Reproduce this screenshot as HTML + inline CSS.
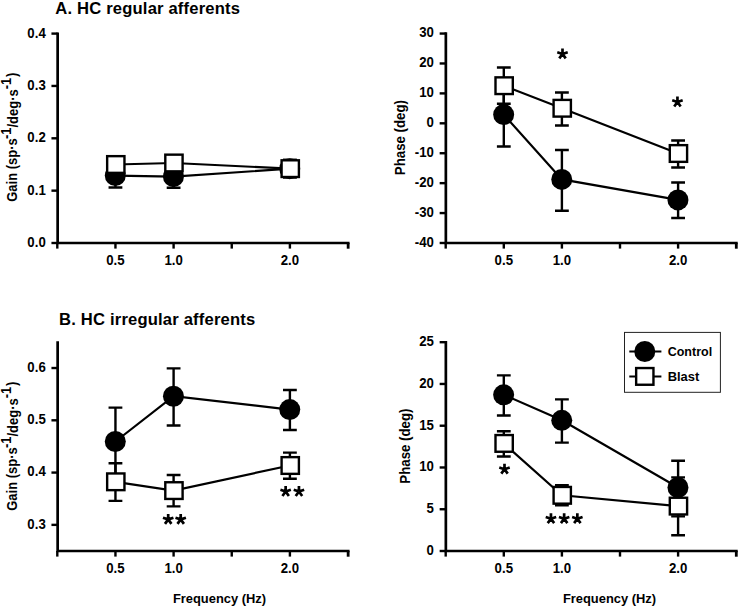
<!DOCTYPE html>
<html><head><meta charset="utf-8"><title>Figure</title>
<style>html,body{margin:0;padding:0;background:#fff}svg{display:block}text{font-family:"Liberation Sans", sans-serif;fill:#000}.t{font-size:13.6px;font-weight:bold}.h{font-size:16.6px;font-weight:bold;letter-spacing:0.18px}.k{font-size:14.4px;font-weight:bold}.s{font-size:26px;font-weight:bold}.r{font-size:13.8px;font-weight:bold}</style></head><body>
<svg width="739" height="607" viewBox="0 0 739 607">
<rect width="739" height="607" fill="#fff"/>
<path d="M115.45 164.00V187.50M108.55 164.00H122.35M108.55 187.50H122.35" stroke="#000" stroke-width="2.4" fill="none"/>
<path d="M173.60 166.00V187.80M166.70 166.00H180.50M166.70 187.80H180.50" stroke="#000" stroke-width="2.4" fill="none"/>
<path d="M289.90 160.00V177.30M283.00 160.00H296.80M283.00 177.30H296.80" stroke="#000" stroke-width="2.4" fill="none"/>
<polyline points="115.45,175.60 173.60,176.70 289.90,168.65" fill="none" stroke="#000" stroke-width="2.2"/>
<circle cx="115.30" cy="175.60" r="10.5" fill="#000"/>
<circle cx="173.45" cy="176.70" r="10.5" fill="#000"/>
<circle cx="289.75" cy="168.65" r="10.5" fill="#000"/>
<path d="M115.45 158.50V170.50M108.55 158.50H122.35M108.55 170.50H122.35" stroke="#000" stroke-width="2.4" fill="none"/>
<path d="M173.60 157.00V169.00M166.70 157.00H180.50M166.70 169.00H180.50" stroke="#000" stroke-width="2.4" fill="none"/>
<path d="M289.90 160.00V177.30M283.00 160.00H296.80M283.00 177.30H296.80" stroke="#000" stroke-width="2.4" fill="none"/>
<polyline points="115.45,164.50 173.60,163.00 289.90,168.65" fill="none" stroke="#000" stroke-width="2.2"/>
<rect x="107.15" y="156.15" width="17.3" height="16.7" fill="#fff" stroke="#000" stroke-width="2.4"/>
<rect x="165.30" y="154.65" width="17.3" height="16.7" fill="#fff" stroke="#000" stroke-width="2.4"/>
<rect x="281.60" y="160.30" width="17.3" height="16.7" fill="#fff" stroke="#000" stroke-width="2.4"/>
<path d="M57.65 32.40V243.00H349.55" fill="none" stroke="#000" stroke-width="2.7" stroke-linejoin="miter"/>
<path d="M57.30 243.00v5.6" stroke="#000" stroke-width="2.4"/>
<path d="M115.45 243.00v5.6" stroke="#000" stroke-width="2.4"/>
<path d="M173.60 243.00v5.6" stroke="#000" stroke-width="2.4"/>
<path d="M231.75 243.00v5.6" stroke="#000" stroke-width="2.4"/>
<path d="M289.90 243.00v5.6" stroke="#000" stroke-width="2.4"/>
<path d="M348.15 243.00v5.7" stroke="#000" stroke-width="2.8"/>
<text transform="translate(115.45 265.30) scale(0.92 1)" text-anchor="middle" class="k">0.5</text>
<text transform="translate(173.60 265.30) scale(0.92 1)" text-anchor="middle" class="k">1.0</text>
<text transform="translate(289.90 265.30) scale(0.92 1)" text-anchor="middle" class="k">2.0</text>
<path d="M57.65 243.00h-6.2" stroke="#000" stroke-width="2.4"/>
<text transform="translate(45.75 246.90) scale(0.92 1)" text-anchor="end" class="k">0.0</text>
<path d="M57.65 190.65h-6.2" stroke="#000" stroke-width="2.4"/>
<text transform="translate(45.75 194.55) scale(0.92 1)" text-anchor="end" class="k">0.1</text>
<path d="M57.65 138.30h-6.2" stroke="#000" stroke-width="2.4"/>
<text transform="translate(45.75 142.20) scale(0.92 1)" text-anchor="end" class="k">0.2</text>
<path d="M57.65 85.95h-6.2" stroke="#000" stroke-width="2.4"/>
<text transform="translate(45.75 89.85) scale(0.92 1)" text-anchor="end" class="k">0.3</text>
<path d="M57.65 33.60h-6.2" stroke="#000" stroke-width="2.4"/>
<text transform="translate(45.75 37.50) scale(0.92 1)" text-anchor="end" class="k">0.4</text>
<path d="M503.80 81.80V146.50M496.90 81.80H510.70M496.90 146.50H510.70" stroke="#000" stroke-width="2.4" fill="none"/>
<path d="M561.90 150.00V210.75M555.00 150.00H568.80M555.00 210.75H568.80" stroke="#000" stroke-width="2.4" fill="none"/>
<path d="M678.10 182.50V218.00M671.20 182.50H685.00M671.20 218.00H685.00" stroke="#000" stroke-width="2.4" fill="none"/>
<polyline points="503.80,114.60 561.90,179.40 678.10,199.90" fill="none" stroke="#000" stroke-width="2.2"/>
<circle cx="503.65" cy="114.60" r="10.5" fill="#000"/>
<circle cx="561.75" cy="179.40" r="10.5" fill="#000"/>
<circle cx="677.95" cy="199.90" r="10.5" fill="#000"/>
<path d="M503.80 67.50V103.75M496.90 67.50H510.70M496.90 103.75H510.70" stroke="#000" stroke-width="2.4" fill="none"/>
<path d="M561.90 92.50V125.50M555.00 92.50H568.80M555.00 125.50H568.80" stroke="#000" stroke-width="2.4" fill="none"/>
<path d="M678.10 140.50V167.50M671.20 140.50H685.00M671.20 167.50H685.00" stroke="#000" stroke-width="2.4" fill="none"/>
<polyline points="503.80,85.70 561.90,108.25 678.10,153.50" fill="none" stroke="#000" stroke-width="2.2"/>
<rect x="495.50" y="77.35" width="17.3" height="16.7" fill="#fff" stroke="#000" stroke-width="2.4"/>
<rect x="553.60" y="99.90" width="17.3" height="16.7" fill="#fff" stroke="#000" stroke-width="2.4"/>
<rect x="669.80" y="145.15" width="17.3" height="16.7" fill="#fff" stroke="#000" stroke-width="2.4"/>
<path d="M445.85 32.35V243.00H737.70" fill="none" stroke="#000" stroke-width="2.7" stroke-linejoin="miter"/>
<path d="M445.70 243.00v5.6" stroke="#000" stroke-width="2.4"/>
<path d="M503.80 243.00v5.6" stroke="#000" stroke-width="2.4"/>
<path d="M561.90 243.00v5.6" stroke="#000" stroke-width="2.4"/>
<path d="M620.00 243.00v5.6" stroke="#000" stroke-width="2.4"/>
<path d="M678.10 243.00v5.6" stroke="#000" stroke-width="2.4"/>
<path d="M736.30 243.00v5.7" stroke="#000" stroke-width="2.8"/>
<text transform="translate(503.80 265.30) scale(0.92 1)" text-anchor="middle" class="k">0.5</text>
<text transform="translate(561.90 265.30) scale(0.92 1)" text-anchor="middle" class="k">1.0</text>
<text transform="translate(678.10 265.30) scale(0.92 1)" text-anchor="middle" class="k">2.0</text>
<path d="M445.85 242.99h-6.2" stroke="#000" stroke-width="2.4"/>
<text transform="translate(433.95 246.89) scale(0.92 1)" text-anchor="end" class="k">-40</text>
<path d="M445.85 213.07h-6.2" stroke="#000" stroke-width="2.4"/>
<text transform="translate(433.95 216.97) scale(0.92 1)" text-anchor="end" class="k">-30</text>
<path d="M445.85 183.15h-6.2" stroke="#000" stroke-width="2.4"/>
<text transform="translate(433.95 187.05) scale(0.92 1)" text-anchor="end" class="k">-20</text>
<path d="M445.85 153.23h-6.2" stroke="#000" stroke-width="2.4"/>
<text transform="translate(433.95 157.13) scale(0.92 1)" text-anchor="end" class="k">-10</text>
<path d="M445.85 123.31h-6.2" stroke="#000" stroke-width="2.4"/>
<text transform="translate(433.95 127.21) scale(0.92 1)" text-anchor="end" class="k">0</text>
<path d="M445.85 93.39h-6.2" stroke="#000" stroke-width="2.4"/>
<text transform="translate(433.95 97.29) scale(0.92 1)" text-anchor="end" class="k">10</text>
<path d="M445.85 63.47h-6.2" stroke="#000" stroke-width="2.4"/>
<text transform="translate(433.95 67.37) scale(0.92 1)" text-anchor="end" class="k">20</text>
<path d="M445.85 33.55h-6.2" stroke="#000" stroke-width="2.4"/>
<text transform="translate(433.95 37.45) scale(0.92 1)" text-anchor="end" class="k">30</text>
<path d="M115.45 407.60V476.00M108.55 407.60H122.35M108.55 476.00H122.35" stroke="#000" stroke-width="2.4" fill="none"/>
<path d="M173.60 368.40V425.50M166.70 368.40H180.50M166.70 425.50H180.50" stroke="#000" stroke-width="2.4" fill="none"/>
<path d="M289.90 390.00V430.00M283.00 390.00H296.80M283.00 430.00H296.80" stroke="#000" stroke-width="2.4" fill="none"/>
<polyline points="115.45,441.50 173.60,396.25 289.90,409.60" fill="none" stroke="#000" stroke-width="2.2"/>
<circle cx="115.30" cy="441.50" r="10.5" fill="#000"/>
<circle cx="173.45" cy="396.25" r="10.5" fill="#000"/>
<circle cx="289.75" cy="409.60" r="10.5" fill="#000"/>
<path d="M115.45 463.25V500.90M108.55 463.25H122.35M108.55 500.90H122.35" stroke="#000" stroke-width="2.4" fill="none"/>
<path d="M173.60 475.00V506.40M166.70 475.00H180.50M166.70 506.40H180.50" stroke="#000" stroke-width="2.4" fill="none"/>
<path d="M289.90 452.60V478.80M283.00 452.60H296.80M283.00 478.80H296.80" stroke="#000" stroke-width="2.4" fill="none"/>
<polyline points="115.45,481.80 173.60,490.60 289.90,465.50" fill="none" stroke="#000" stroke-width="2.2"/>
<rect x="107.15" y="473.45" width="17.3" height="16.7" fill="#fff" stroke="#000" stroke-width="2.4"/>
<rect x="165.30" y="482.25" width="17.3" height="16.7" fill="#fff" stroke="#000" stroke-width="2.4"/>
<rect x="281.60" y="457.15" width="17.3" height="16.7" fill="#fff" stroke="#000" stroke-width="2.4"/>
<path d="M57.65 341.20V551.00H349.55" fill="none" stroke="#000" stroke-width="2.7" stroke-linejoin="miter"/>
<path d="M57.30 551.00v5.6" stroke="#000" stroke-width="2.4"/>
<path d="M115.45 551.00v5.6" stroke="#000" stroke-width="2.4"/>
<path d="M173.60 551.00v5.6" stroke="#000" stroke-width="2.4"/>
<path d="M231.75 551.00v5.6" stroke="#000" stroke-width="2.4"/>
<path d="M289.90 551.00v5.6" stroke="#000" stroke-width="2.4"/>
<path d="M348.15 551.00v5.7" stroke="#000" stroke-width="2.8"/>
<text transform="translate(115.45 573.30) scale(0.92 1)" text-anchor="middle" class="k">0.5</text>
<text transform="translate(173.60 573.30) scale(0.92 1)" text-anchor="middle" class="k">1.0</text>
<text transform="translate(289.90 573.30) scale(0.92 1)" text-anchor="middle" class="k">2.0</text>
<path d="M57.65 524.86h-6.2" stroke="#000" stroke-width="2.4"/>
<text transform="translate(45.75 528.76) scale(0.92 1)" text-anchor="end" class="k">0.3</text>
<path d="M57.65 472.58h-6.2" stroke="#000" stroke-width="2.4"/>
<text transform="translate(45.75 476.48) scale(0.92 1)" text-anchor="end" class="k">0.4</text>
<path d="M57.65 420.30h-6.2" stroke="#000" stroke-width="2.4"/>
<text transform="translate(45.75 424.20) scale(0.92 1)" text-anchor="end" class="k">0.5</text>
<path d="M57.65 368.02h-6.2" stroke="#000" stroke-width="2.4"/>
<text transform="translate(45.75 371.92) scale(0.92 1)" text-anchor="end" class="k">0.6</text>
<path d="M503.80 375.40V415.50M496.90 375.40H510.70M496.90 415.50H510.70" stroke="#000" stroke-width="2.4" fill="none"/>
<path d="M561.90 399.40V442.60M555.00 399.40H568.80M555.00 442.60H568.80" stroke="#000" stroke-width="2.4" fill="none"/>
<path d="M678.10 460.70V516.40M671.20 460.70H685.00M671.20 516.40H685.00" stroke="#000" stroke-width="2.4" fill="none"/>
<polyline points="503.80,394.80 561.90,420.30 678.10,487.50" fill="none" stroke="#000" stroke-width="2.2"/>
<circle cx="503.65" cy="394.80" r="10.5" fill="#000"/>
<circle cx="561.75" cy="420.30" r="10.5" fill="#000"/>
<circle cx="677.95" cy="487.50" r="10.5" fill="#000"/>
<path d="M503.80 431.25V456.50M496.90 431.25H510.70M496.90 456.50H510.70" stroke="#000" stroke-width="2.4" fill="none"/>
<path d="M561.90 485.20V505.20M555.00 485.20H568.80M555.00 505.20H568.80" stroke="#000" stroke-width="2.4" fill="none"/>
<path d="M678.10 477.40V535.30M671.20 477.40H685.00M671.20 535.30H685.00" stroke="#000" stroke-width="2.4" fill="none"/>
<polyline points="503.80,443.40 561.90,495.30 678.10,506.10" fill="none" stroke="#000" stroke-width="2.2"/>
<rect x="495.50" y="435.05" width="17.3" height="16.7" fill="#fff" stroke="#000" stroke-width="2.4"/>
<rect x="553.60" y="486.95" width="17.3" height="16.7" fill="#fff" stroke="#000" stroke-width="2.4"/>
<rect x="669.80" y="497.75" width="17.3" height="16.7" fill="#fff" stroke="#000" stroke-width="2.4"/>
<path d="M445.85 341.00V551.00H737.70" fill="none" stroke="#000" stroke-width="2.7" stroke-linejoin="miter"/>
<path d="M445.70 551.00v5.6" stroke="#000" stroke-width="2.4"/>
<path d="M503.80 551.00v5.6" stroke="#000" stroke-width="2.4"/>
<path d="M561.90 551.00v5.6" stroke="#000" stroke-width="2.4"/>
<path d="M620.00 551.00v5.6" stroke="#000" stroke-width="2.4"/>
<path d="M678.10 551.00v5.6" stroke="#000" stroke-width="2.4"/>
<path d="M736.30 551.00v5.7" stroke="#000" stroke-width="2.8"/>
<text transform="translate(503.80 573.30) scale(0.92 1)" text-anchor="middle" class="k">0.5</text>
<text transform="translate(561.90 573.30) scale(0.92 1)" text-anchor="middle" class="k">1.0</text>
<text transform="translate(678.10 573.30) scale(0.92 1)" text-anchor="middle" class="k">2.0</text>
<path d="M445.85 551.00h-6.2" stroke="#000" stroke-width="2.4"/>
<text transform="translate(433.95 554.90) scale(0.92 1)" text-anchor="end" class="k">0</text>
<path d="M445.85 509.24h-6.2" stroke="#000" stroke-width="2.4"/>
<text transform="translate(433.95 513.14) scale(0.92 1)" text-anchor="end" class="k">5</text>
<path d="M445.85 467.48h-6.2" stroke="#000" stroke-width="2.4"/>
<text transform="translate(433.95 471.38) scale(0.92 1)" text-anchor="end" class="k">10</text>
<path d="M445.85 425.72h-6.2" stroke="#000" stroke-width="2.4"/>
<text transform="translate(433.95 429.62) scale(0.92 1)" text-anchor="end" class="k">15</text>
<path d="M445.85 383.96h-6.2" stroke="#000" stroke-width="2.4"/>
<text transform="translate(433.95 387.86) scale(0.92 1)" text-anchor="end" class="k">20</text>
<path d="M445.85 342.20h-6.2" stroke="#000" stroke-width="2.4"/>
<text transform="translate(433.95 346.10) scale(0.92 1)" text-anchor="end" class="k">25</text>
<text x="55.3" y="13.9" class="h">A. HC regular afferents</text>
<text x="59.1" y="324.6" class="h">B. HC irregular afferents</text>
<text transform="translate(219.50 602.90) scale(0.95 1)" text-anchor="middle" class="t">Frequency (Hz)</text>
<text transform="translate(609.50 602.90) scale(0.95 1)" text-anchor="middle" class="t">Frequency (Hz)</text>
<text transform="translate(17.45 137.2) rotate(-90) scale(0.942 1)" text-anchor="middle" class="r">Gain (sp·s<tspan dy="-6.6" dx="-0.8">-1</tspan><tspan dy="7.45">/deg·s</tspan><tspan dy="-7.45">-1</tspan><tspan dy="6.6" dx="0.8">)</tspan></text>
<text transform="translate(17.45 446.2) rotate(-90) scale(0.942 1)" text-anchor="middle" class="r">Gain (sp·s<tspan dy="-6.6" dx="-0.8">-1</tspan><tspan dy="7.45">/deg·s</tspan><tspan dy="-7.45">-1</tspan><tspan dy="6.6" dx="0.8">)</tspan></text>
<text transform="translate(404.7 137.6) rotate(-90) scale(0.961 1)" text-anchor="middle" class="r">Phase (deg)</text>
<text transform="translate(409.7 446.1) rotate(-90) scale(0.961 1)" text-anchor="middle" class="r">Phase (deg)</text>
<path d="M562.50 53.95L562.50 48.45M562.50 53.95L567.73 52.25M562.50 53.95L565.73 58.40M562.50 53.95L559.27 58.40M562.50 53.95L557.27 52.25" stroke="#000" stroke-width="2.7" fill="none"/>
<path d="M677.45 102.00L677.45 96.50M677.45 102.00L682.68 100.30M677.45 102.00L680.68 106.45M677.45 102.00L674.22 106.45M677.45 102.00L672.22 100.30" stroke="#000" stroke-width="2.7" fill="none"/>
<path d="M168.20 519.40L168.20 513.90M168.20 519.40L173.43 517.70M168.20 519.40L171.43 523.85M168.20 519.40L164.97 523.85M168.20 519.40L162.97 517.70M180.70 519.40L180.70 513.90M180.70 519.40L185.93 517.70M180.70 519.40L183.93 523.85M180.70 519.40L177.47 523.85M180.70 519.40L175.47 517.70" stroke="#000" stroke-width="2.7" fill="none"/>
<path d="M285.65 491.50L285.65 486.00M285.65 491.50L290.88 489.80M285.65 491.50L288.88 495.95M285.65 491.50L282.42 495.95M285.65 491.50L280.42 489.80M298.95 491.50L298.95 486.00M298.95 491.50L304.18 489.80M298.95 491.50L302.18 495.95M298.95 491.50L295.72 495.95M298.95 491.50L293.72 489.80" stroke="#000" stroke-width="2.7" fill="none"/>
<path d="M504.50 469.20L504.50 463.70M504.50 469.20L509.73 467.50M504.50 469.20L507.73 473.65M504.50 469.20L501.27 473.65M504.50 469.20L499.27 467.50" stroke="#000" stroke-width="2.7" fill="none"/>
<path d="M550.95 518.70L550.95 513.20M550.95 518.70L556.18 517.00M550.95 518.70L554.18 523.15M550.95 518.70L547.72 523.15M550.95 518.70L545.72 517.00M564.15 518.70L564.15 513.20M564.15 518.70L569.38 517.00M564.15 518.70L567.38 523.15M564.15 518.70L560.92 523.15M564.15 518.70L558.92 517.00M577.35 518.70L577.35 513.20M577.35 518.70L582.58 517.00M577.35 518.70L580.58 523.15M577.35 518.70L574.12 523.15M577.35 518.70L572.12 517.00" stroke="#000" stroke-width="2.7" fill="none"/>
<rect x="624.5" y="332.4" width="95.9" height="59.9" fill="#fff" stroke="#222" stroke-width="1"/>
<path d="M629.3 351.6H661.4M629.3 376.5H661.4" stroke="#000" stroke-width="2"/>
<circle cx="644.8" cy="351.5" r="10.5" fill="#000"/>
<rect x="636.15" y="368.04999999999995" width="17.3" height="16.7" fill="#fff" stroke="#000" stroke-width="2.4"/>
<text transform="translate(667.70 356.20) scale(0.92 1)" text-anchor="start" class="t">Control</text>
<text transform="translate(667.70 380.50) scale(0.95 1)" text-anchor="start" class="t">Blast</text>
</svg></body></html>
